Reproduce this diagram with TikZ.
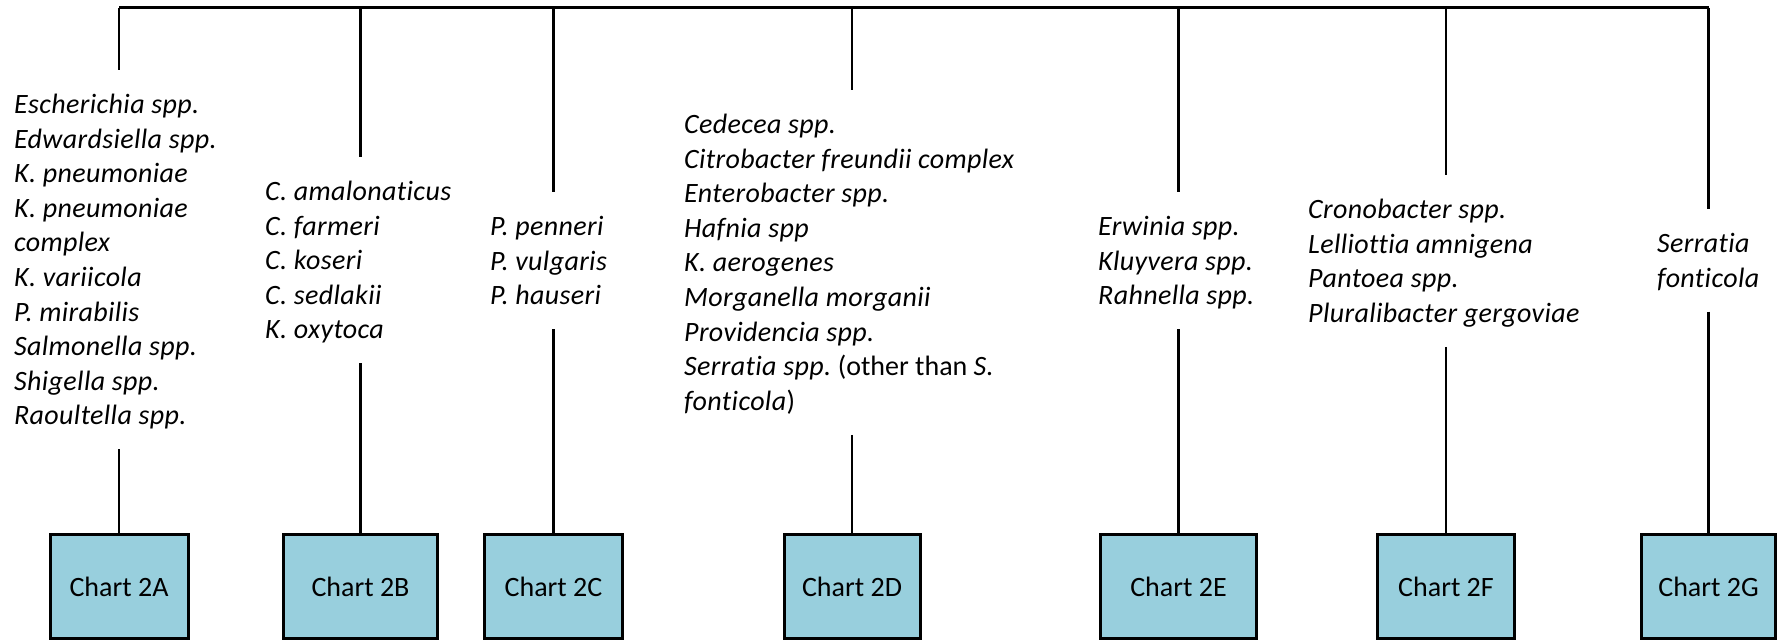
\documentclass[tikz,border=0pt]{standalone}
\usepackage{fontspec}
\setmainfont{Carlito}[Ligatures=NoCommon, ItalicFeatures={LetterSpace=1.3}]
\definecolor{chartfill}{RGB}{152,207,221}
% struts for the first and last line of each list
\newcommand\liststart{\rule{0pt}{26.7pt}}
\newcommand\listend{\rule[-7.9pt]{0pt}{7.9pt}}
\begin{document}
\begin{tikzpicture}[x=1pt,y=-1pt,
  bus/.style={line width=3pt},
  stem/.style={line width=2.2pt},
  chartbox/.style={draw, line width=3pt, fill=chartfill, minimum height=104pt,
    inner sep=0pt, font=\fontsize{28}{34.6}\selectfont},
  taxa/.style={anchor=north west, align=left, inner xsep=0pt, inner ysep=16.5pt,
    font=\fontsize{28}{34.6}\selectfont\itshape}
]
\useasboundingbox (0,0) rectangle (1777,640);

% branch points on the top bus
\coordinate (bA) at (119,7.5);
\coordinate (bB) at (360.5,7.5);
\coordinate (bC) at (553.5,7.5);
\coordinate (bD) at (852,7.5);
\coordinate (bE) at (1178.5,7.5);
\coordinate (bF) at (1446,7.5);
\coordinate (bG) at (1708.5,7.5);

% chart boxes
\node[chartbox, minimum width=138pt] (cA) at (119,586.5) {Chart 2A};
\node[chartbox, minimum width=154pt] (cB) at (360.5,586.5) {Chart 2B};
\node[chartbox, minimum width=138pt] (cC) at (553.5,586.5) {Chart 2C};
\node[chartbox, minimum width=136pt] (cD) at (852,586.5) {Chart 2D};
\node[chartbox, minimum width=156pt] (cE) at (1178.5,586.5) {Chart 2E};
\node[chartbox, minimum width=137pt] (cF) at (1446,586.5) {Chart 2F};
\node[chartbox, minimum width=134pt] (cG) at (1708.5,586.5) {Chart 2G};

% organism lists
\node[taxa] (tA) at (14,70) {\liststart Escherichia spp.\\ Edwardsiella spp.\\ K. pneumoniae\\
  K. pneumoniae\\ complex\\ K. variicola\\ P. mirabilis\\ Salmonella spp.\\
  Shigella spp.\\ Raoultella spp.\listend};
\node[taxa] (tB) at (265,157) {\liststart C. amalonaticus\\ C. farmeri\\ C. koseri\\
  C. sedlakii\\ K. oxytoca\listend};
\node[taxa] (tC) at (490,192) {\liststart P. penneri\\ P. vulgaris\\ P. hauseri\listend};
\node[taxa] (tD) at (684,90) {\liststart Cedecea spp.\\ Citrobacter freundii complex\\
  Enterobacter spp.\\ Hafnia spp\\ K. aerogenes\\ Morganella morganii\\
  Providencia spp.\\ Serratia spp.\/{\upshape\ (other than }S.\\
  fonticola\/{\upshape )}\listend};
\node[taxa] (tE) at (1098,192) {\liststart Erwinia spp.\\ Kluyvera spp.\\ Rahnella spp.\listend};
\node[taxa] (tF) at (1308,175) {\liststart Cronobacter spp.\\ Lelliottia amnigena\\
  Pantoea spp.\\ Pluralibacter gergoviae\listend};
\node[taxa] (tG) at (1657,209) {\liststart Serratia\\ fonticola\listend};

% connectors
\draw[bus] (bA) -- (bG);
\foreach \k in {A,B,C,D,E,F,G}{
  \draw[stem] (b\k) -- (b\k |- t\k.north);
  \draw[stem] (b\k |- t\k.south) -- (c\k.north);
}
\end{tikzpicture}
\end{document}
